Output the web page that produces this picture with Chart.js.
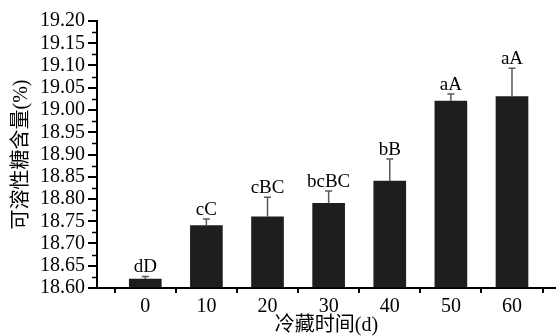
<!DOCTYPE html>
<html>
<head>
<meta charset="utf-8">
<script src="https://cdn.jsdelivr.net/npm/chart.js@4"></script>
<style>
  html, body { margin: 0; padding: 0; background: #fff; }
  #wrap { width: 556px; height: 336px; }
</style>
</head>
<body>
<div id="wrap"><canvas id="chart"></canvas></div>
<script>
const days = [0, 10, 20, 30, 40, 50, 60];
const sugar = [18.62, 18.74, 18.76, 18.79, 18.84, 19.02, 19.03];
const sugarErr = [0.006, 0.015, 0.044, 0.028, 0.05, 0.016, 0.064];
const letters = ["dD", "cC", "cBC", "bcBC", "bB", "aA", "aA"];
const yMin = 18.60;
const yMax = 19.20;
const yStep = 0.05;

const serif = '"Liberation Serif", "Times New Roman", serif';
const cjk = '"Liberation Serif", "Noto Sans CJK SC", serif';

Chart.defaults.color = "#000";

// tick marks sit between the bars, labels under the bars
const xTickValues = days.map(d => d - 5).concat([days[days.length - 1] + 5]).concat(days).sort((a, b) => a - b);

const errorBars = {
    id: "errorBars",
    afterDatasetsDraw(chart) {
        const ctx = chart.ctx;
        const y = chart.scales.y;
        const meta = chart.getDatasetMeta(0);
        ctx.save();
        meta.data.forEach((bar, i) => {
            const top = y.getPixelForValue(sugar[i] + sugarErr[i]);
            const base = y.getPixelForValue(sugar[i]);
            ctx.strokeStyle = "#5a5a5a";
            ctx.lineWidth = 1.5;
            ctx.beginPath();
            ctx.moveTo(bar.x, base);
            ctx.lineTo(bar.x, top);
            ctx.moveTo(bar.x - 3.5, top);
            ctx.lineTo(bar.x + 3.5, top);
            ctx.stroke();

            ctx.fillStyle = "#000";
            ctx.font = "19px " + serif;
            ctx.textAlign = "center";
            ctx.textBaseline = "alphabetic";
            ctx.fillText(letters[i], bar.x, top - 4);
        });
        ctx.restore();
    }
};

// short minor ticks half way between the labelled ones
const minorTicks = {
    id: "minorTicks",
    afterDraw(chart) {
        const ctx = chart.ctx;
        const y = chart.scales.y;
        const left = chart.chartArea.left;
        ctx.save();
        ctx.strokeStyle = "#000";
        ctx.lineWidth = 1.5;
        for (let v = yMin + yStep / 2; v < yMax; v += yStep) {
            const py = Math.round(y.getPixelForValue(v)) + 0.5;
            ctx.beginPath();
            ctx.moveTo(left - 5, py);
            ctx.lineTo(left, py);
            ctx.stroke();
        }
        ctx.restore();
    }
};

new Chart(document.getElementById("chart"), {
    type: "bar",
    data: {
        datasets: [{
            data: days.map((d, i) => ({ x: d, y: sugar[i] })),
            base: yMin,
            backgroundColor: "#1e1e1e",
            borderWidth: 0,
            barThickness: 32
        }]
    },
    options: {
        responsive: true,
        maintainAspectRatio: false,
        animation: false,
        layout: { padding: { top: 21, right: 0, bottom: 0, left: 0 } },
        plugins: {
            legend: { display: false },
            tooltip: { enabled: false }
        },
        scales: {
            x: {
                type: "linear",
                min: -7.9,
                max: 67.2,
                offset: false,
                afterBuildTicks: scale => {
                    scale.ticks = xTickValues.map(v => ({ value: v }));
                },
                afterFit: scale => { scale.height = 48; },
                ticks: {
                    autoSkip: false,
                    maxRotation: 0,
                    padding: 2,
                    font: { family: serif, size: 20 },
                    callback: v => days.includes(v) ? String(v) : ""
                },
                grid: {
                    offset: false,
                    drawOnChartArea: false,
                    drawTicks: true,
                    tickLength: 5,
                    lineWidth: 2,
                    color: c => (c.tick && days.includes(c.tick.value)) ? "rgba(0,0,0,0)" : "#000"
                },
                border: { display: true, color: "#000", width: 2 },
                title: {
                    display: true,
                    text: "冷藏时间(d)",
                    font: { family: cjk, size: 20, lineHeight: 1 },
                    padding: 0
                }
            },
            y: {
                min: yMin,
                max: yMax,
                afterFit: scale => { scale.width = 97; },
                ticks: {
                    stepSize: yStep,
                    autoSkip: false,
                    padding: 3,
                    font: { family: serif, size: 20 },
                    callback: v => Number(v).toFixed(2)
                },
                grid: {
                    drawOnChartArea: false,
                    drawTicks: true,
                    tickLength: 9,
                    lineWidth: 2,
                    color: "#000"
                },
                border: { display: true, color: "#000", width: 2 },
                title: {
                    display: true,
                    text: "可溶性糖含量(%)",
                    font: { family: cjk, size: 20, lineHeight: 1.2 },
                    padding: { top: 10, bottom: 0 }
                }
            }
        }
    },
    plugins: [errorBars, minorTicks]
});
</script>
</body>
</html>
